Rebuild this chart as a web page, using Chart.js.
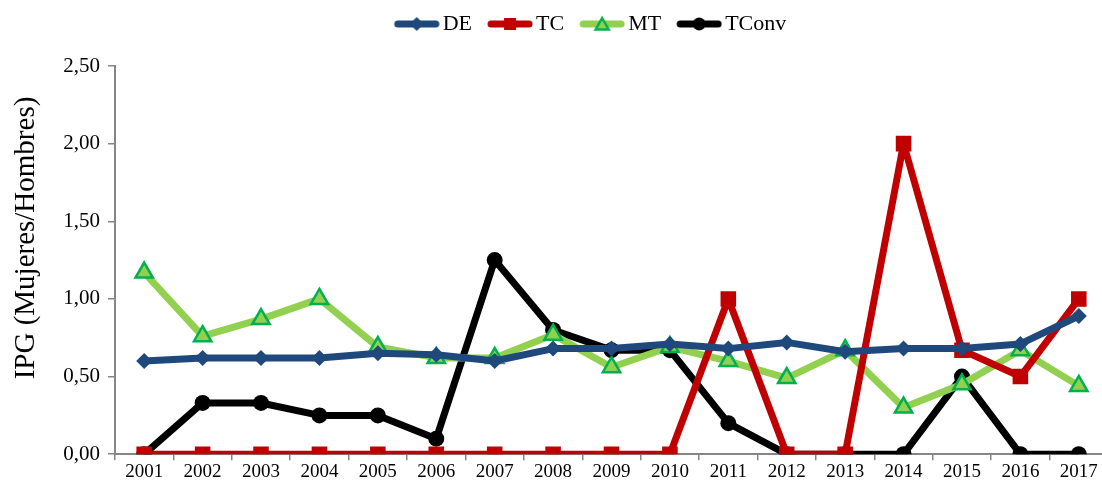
<!DOCTYPE html>
<html>
<head>
<meta charset="utf-8">
<script src="https://cdn.jsdelivr.net/npm/chart.js@4"></script>
<style>
  html, body { margin: 0; padding: 0; background: #fff; overflow: hidden; }
  #ipgChart { display: block; }
</style>
</head>
<body>
<canvas id="ipgChart" width="1102" height="487"></canvas>
<script>
// Data
const years = ['2001','2002','2003','2004','2005','2006','2007','2008','2009','2010','2011','2012','2013','2014','2015','2016','2017'];
const deValues = [0.60, 0.62, 0.62, 0.62, 0.65, 0.64, 0.60, 0.68, 0.68, 0.71, 0.68, 0.72, 0.66, 0.68, 0.68, 0.71, 0.89];
const tcValues = [0, 0, 0, 0, 0, 0, 0, 0, 0, 0, 1.00, 0, 0, 2.00, 0.67, 0.50, 1.00];
const mtValues = [1.17, 0.76, 0.87, 1.00, 0.69, 0.62, 0.62, 0.77, 0.56, 0.69, 0.60, 0.49, 0.67, 0.30, 0.45, 0.67, 0.44];
const tconvValues = [0, 0.33, 0.33, 0.25, 0.25, 0.10, 1.25, 0.80, 0.67, 0.67, 0.20, 0, 0, 0, 0.50, 0, 0];
const yTicks = [0, 0.5, 1, 1.5, 2, 2.5];
const yTitle = 'IPG (Mujeres/Hombres)';

const serif = '"Liberation Serif", "DejaVu Serif", serif';

// legend swatch: line with marker in the middle (10px blank on the left)
function swatch(color, shape, fill, border) {
  const c = document.createElement('canvas');
  c.width = 56; c.height = 18;
  const g = c.getContext('2d');
  g.translate(10, 0);
  g.strokeStyle = color; g.lineWidth = 7; g.lineCap = 'round';
  g.beginPath(); g.moveTo(4, 9); g.lineTo(42, 9); g.stroke();
  g.fillStyle = fill;
  g.beginPath();
  if (shape === 'diamond') { g.moveTo(23, 2); g.lineTo(30, 9); g.lineTo(23, 16); g.lineTo(16, 9); g.closePath(); g.fill(); }
  if (shape === 'square') { g.fillRect(17, 3, 12, 12); }
  if (shape === 'circle') { g.arc(23, 9, 6.5, 0, Math.PI * 2); g.fill(); }
  if (shape === 'triangle') {
    g.moveTo(23, 3); g.lineTo(29.5, 14.5); g.lineTo(16.5, 14.5); g.closePath();
    g.fill(); g.strokeStyle = border; g.lineWidth = 2.5; g.stroke();
  }
  return c;
}

// extra space under the legend, legend shifted right like the original
const legendGap = {
  id: 'legendGap',
  beforeInit(chart) {
    const fit = chart.legend.fit;
    chart.legend.fit = function () {
      fit.bind(chart.legend)();
      this.height += 21;
    };
  },
  afterUpdate(chart) {
    chart.legend.left += 39;
    chart.legend.right += 39;
  }
};

// the original plot area runs a little past the right edge
const stretchRight = {
  id: 'stretchRight',
  afterLayout(chart) {
    const extra = 8;
    const x = chart.scales.x;
    x.right += extra;
    x.width += extra;
    chart.chartArea.right += extra;
    chart.chartArea.width += extra;
    if (x.configure) x.configure();
  }
};

// rotated axis title
const yTitlePlugin = {
  id: 'yTitlePlugin',
  afterDraw(chart) {
    const c = chart.ctx;
    c.save();
    c.translate(26, 238);
    c.rotate(-Math.PI / 2);
    c.font = '29px ' + serif;
    c.fillStyle = '#000';
    c.textAlign = 'center';
    c.textBaseline = 'middle';
    c.fillText(yTitle, 0, 0);
    c.restore();
  }
};

const ctx = document.getElementById('ipgChart').getContext('2d');
new Chart(ctx, {
  type: 'line',
  data: {
    labels: years,
    datasets: [
      {
        label: 'DE', data: deValues,
        borderColor: '#1F497D', backgroundColor: '#1F497D',
        borderWidth: 7, borderJoinStyle: 'round', pointStyle: 'rectRot', pointRadius: 8,
        pointBackgroundColor: '#1F497D', pointBorderWidth: 0,
        legendImg: swatch('#1F497D', 'diamond', '#1F497D')
      },
      {
        label: 'TC', data: tcValues,
        borderColor: '#C00000', backgroundColor: '#C00000',
        borderWidth: 7, borderJoinStyle: 'round', pointStyle: 'rect', pointRadius: 11,
        pointBackgroundColor: '#C00000', pointBorderWidth: 0,
        legendImg: swatch('#C00000', 'square', '#C00000')
      },
      {
        label: 'MT', data: mtValues,
        borderColor: '#92D050', backgroundColor: '#92D050',
        borderWidth: 7, borderJoinStyle: 'round', pointStyle: 'triangle', pointRadius: 10,
        pointBackgroundColor: '#92D050', pointBorderColor: '#00B050', pointBorderWidth: 2.5,
        legendImg: swatch('#92D050', 'triangle', '#92D050', '#00B050')
      },
      {
        label: 'TConv', data: tconvValues,
        borderColor: '#000000', backgroundColor: '#000000',
        borderWidth: 7, borderJoinStyle: 'round', pointStyle: 'circle', pointRadius: 8,
        pointBackgroundColor: '#000000', pointBorderWidth: 0,
        legendImg: swatch('#000000', 'circle', '#000000')
      }
    ]
  },
  options: {
    responsive: false,
    animation: false,
    layout: { autoPadding: false, padding: { top: 0, right: 2, left: 0, bottom: 4 } },
    plugins: {
      tooltip: { enabled: false },
      legend: {
        position: 'top',
        labels: {
          color: '#000',
          font: { family: serif, size: 22 },
          usePointStyle: true,
          pointStyleWidth: 40,
          boxHeight: 18,
          padding: 13,
          generateLabels: (chart) => chart.data.datasets.map((ds, i) => ({
            text: ds.label,
            pointStyle: ds.legendImg,
            fillStyle: ds.borderColor,
            strokeStyle: ds.borderColor,
            lineWidth: 0,
            hidden: false,
            datasetIndex: i,
            fontColor: '#000'
          }))
        }
      }
    },
    scales: {
      x: {
        offset: true,
        afterFit: (scale) => { scale.paddingRight = 0; scale.paddingLeft = 0; },
        grid: { display: true, drawOnChartArea: false, offset: true, color: '#868686', tickLength: 6, lineWidth: 1.5 },
        border: { color: '#868686', width: 2 },
        ticks: { color: '#000', font: { family: serif, size: 19 }, maxRotation: 0, autoSkip: false, padding: 0 }
      },
      y: {
        min: 0, max: 2.5,
        afterBuildTicks: (scale) => { scale.ticks = yTicks.map(v => ({ value: v })); },
        afterFit: (scale) => { scale.width = 115; },
        grid: { display: true, drawOnChartArea: false, color: '#868686', tickLength: 7, lineWidth: 1.5 },
        border: { color: '#868686', width: 2 },
        ticks: {
          color: '#000', font: { family: serif, size: 21 }, padding: 8,
          callback: (v) => v.toFixed(2).replace('.', ',')
        }
      }
    }
  },
  plugins: [legendGap, stretchRight, yTitlePlugin]
});
</script>
</body>
</html>
